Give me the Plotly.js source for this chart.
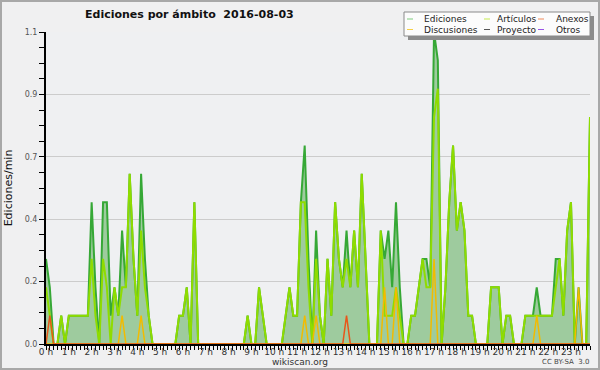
<!DOCTYPE html>
<html>
<head>
<meta charset="utf-8">
<script src="https://cdn.plot.ly/plotly-3.0.1.min.js"></script>
<style>
  html, body { margin: 0; padding: 0; background: #f0f0f1; }
  #chart { width: 600px; height: 370px; }
</style>
</head>
<body>
<div id="chart"></div>
<script>
// ---- DATA (10-minute bins, 2016-08-03) ----
const hourLabels = ['0 h','1 h','2 h','3 h','4 h','5 h','6 h','7 h','8 h','9 h','10 h','11 h',
                    '12 h','13 h','14 h','15 h','16 h','17 h','18 h','19 h','20 h','21 h','22 h','23 h'];

const ediciones = [
  0.3,0.2,0,0,0.1,0,0.1,0.1,0.1,0.1,0.1,0.1,
  0.5,0.2,0,0.5,0.5,0.1,0.2,0.1,0.4,0.2,0.6,0.3,
  0.1,0.6,0.3,0.1,0,0,0,0,0,0,0,0.1,
  0.1,0.2,0,0.5,0,0,0,0,0,0,0,0,
  0,0,0,0,0,0.1,0,0,0.2,0.1,0,0,
  0,0,0,0.1,0.2,0.1,0.1,0.5,0.7,0.3,0,0.4,
  0.1,0,0.3,0.1,0.5,0.3,0.2,0.4,0.2,0.4,0.2,0.6,
  0.3,0,0,0,0.4,0.3,0.4,0.2,0.5,0.2,0,0,
  0.1,0.1,0.2,0.3,0.3,0.2,1.1,1.0,0,0.2,0.5,0.7,
  0.4,0.5,0.4,0.1,0.1,0,0,0,0,0.2,0.2,0.2,
  0,0.1,0.1,0,0,0,0.1,0.1,0.1,0.2,0.1,0.1,
  0.1,0.1,0.3,0.3,0.1,0.4,0.5,0,0.2,0,0,0.8
];
const articulos = [
  0.2,0.1,0,0,0.1,0,0.1,0.1,0.1,0.1,0.1,0.1,
  0.3,0.1,0,0.3,0.2,0,0.2,0.1,0.2,0.2,0.6,0.3,
  0.1,0.4,0.2,0.1,0,0,0,0,0,0,0,0.1,
  0.1,0.2,0,0.5,0,0,0,0,0,0,0,0,
  0,0,0,0,0,0.1,0,0,0.2,0.1,0,0,
  0,0,0,0.1,0.2,0.1,0.1,0.5,0.5,0.2,0,0.3,
  0.1,0,0.3,0.1,0.5,0.3,0.2,0.3,0.2,0.4,0.2,0.6,
  0.3,0,0,0,0.4,0.1,0.1,0.1,0.2,0.1,0,0,
  0.1,0.1,0.2,0.3,0.2,0.2,0.8,0.9,0,0.2,0.5,0.7,
  0.4,0.5,0.4,0.1,0.1,0,0,0,0,0.2,0.2,0.2,
  0,0.1,0.1,0,0,0,0.1,0.1,0.1,0.1,0.1,0.1,
  0.1,0.1,0.2,0.3,0.1,0.4,0.5,0,0,0,0,0.8
];
const discusiones = [
  0,0,0,0,0,0,0,0,0,0,0,0,
  0,0,0,0,0,0,0,0,0.1,0,0,0,
  0,0.1,0,0,0,0,0,0,0,0,0,0,
  0,0,0,0,0,0,0,0,0,0,0,0,
  0,0,0,0,0,0,0,0,0,0,0,0,
  0,0,0,0,0,0,0,0,0.1,0,0,0.1,
  0,0,0,0,0,0,0,0,0,0,0,0,
  0,0,0,0,0,0.2,0,0,0.2,0,0,0,
  0,0,0,0,0,0,0.3,0,0,0,0,0,
  0,0,0,0,0,0,0,0,0,0,0,0,
  0,0,0,0,0,0,0,0,0,0.1,0,0,
  0,0,0,0,0,0,0,0,0.2,0,0,0
];
const anexos = [
  0,0.1,0,0,0,0,0,0,0,0,0,0,
  0,0,0,0,0,0,0,0,0,0,0,0,
  0,0,0,0,0,0,0,0,0,0,0,0,
  0,0,0,0,0,0,0,0,0,0,0,0,
  0,0,0,0,0,0,0,0,0,0,0,0,
  0,0,0,0,0,0,0,0,0,0,0,0,
  0,0,0,0,0,0,0,0.1,0,0,0,0,
  0,0,0,0,0,0,0,0,0,0,0,0,
  0,0,0,0,0,0,0,0,0,0,0,0,
  0,0,0,0,0,0,0,0,0,0,0,0,
  0,0,0,0,0,0,0,0,0,0,0,0,
  0,0,0,0,0,0,0,0,0,0,0,0
];
const proyecto = [
  0,0,0,0,0,0,0,0,0,0,0,0, 0,0,0,0,0,0,0,0,0,0,0,0,
  0,0,0,0,0,0,0,0,0,0,0,0, 0,0,0,0,0,0,0,0,0,0,0,0,
  0,0,0,0,0,0,0,0,0,0,0,0, 0,0,0,0,0,0,0,0,0,0,0,0,
  0,0,0,0,0,0,0,0,0,0,0,0, 0,0,0,0,0,0,0,0,0,0,0,0,
  0,0,0,0,0,0,0,0,0,0,0,0, 0,0,0,0,0,0,0,0,0,0,0,0,
  0,0,0,0,0,0,0,0,0,0,0,0, 0,0,0,0,0,0,0,0,0,0,0,0
];
const otros = [
  0,0,0,0,0,0,0,0,0,0,0,0, 0,0,0,0,0,0,0,0,0,0,0,0,
  0,0,0,0,0,0,0,0,0,0,0,0, 0,0,0,0,0,0,0,0,0,0,0,0,
  0,0,0,0,0,0,0,0,0,0,0,0, 0,0,0,0,0,0,0,0,0,0,0,0,
  0,0,0,0,0,0,0,0,0,0,0,0, 0,0,0,0,0,0,0,0,0,0,0,0,
  0,0,0,0,0,0,0,0,0,0,0,0, 0,0,0,0,0,0,0,0,0,0,0,0,
  0,0,0,0,0,0,0,0,0,0,0,0, 0,0,0,0,0,0,0,0,0,0,0,0
];
const yTickVals = [0, 0.22, 0.44, 0.66, 0.88, 1.1];
const yTickText = ['0.0','0.2','0.4','0.7','0.9','1.1'];

// ---- build ----
const bins = ediciones.map((_, i) => i);           // 10-min bin index
const hourTicks = hourLabels.map((_, h) => h * 6);

const FONT = 'DejaVu Sans, Verdana, sans-serif';
const COL = {
  ed: '#36a836', art: '#8fdc00', disc: '#f2bb00', anex: '#e8561a', proy: '#555555', otros: '#9a50e0',
  fill: '#9ecb9e'
};

const traces = [
  {x: bins, y: proyecto, name: 'Proyecto', mode: 'lines', line: {color: COL.proy, width: 1.5}},
  {x: bins, y: otros, name: 'Otros', mode: 'lines', line: {color: COL.otros, width: 1.5}},
  {x: bins, y: ediciones, name: 'Ediciones', mode: 'lines', fill: 'tozeroy', fillcolor: COL.fill,
   line: {color: COL.ed, width: 2}},
  {x: bins, y: articulos, name: 'Artículos', mode: 'lines', line: {color: COL.art, width: 2}},
  {x: bins, y: discusiones, name: 'Discusiones', mode: 'lines', line: {color: COL.disc, width: 1.5}},
  {x: bins, y: anexos, name: 'Anexos', mode: 'lines', line: {color: COL.anex, width: 1.5}}
];

// layout geometry (pixels)
const W = 600, H = 370, M = {l: 46, r: 10, t: 32, b: 26};
const PW = W - M.l - M.r, PH = H - M.t - M.b;
const px = v => (v - M.l) / PW;
const py = v => (H - M.b - v) / PH;

// manual legend (3 columns x 2 rows)
const legendNames  = ['Ediciones','Artículos','Anexos','Discusiones','Proyecto','Otros'];
const legendColors = ['#7fcc7f','#c6ea4e','#f08a5a','#f6cf48','#555555','#9a55e6'];
const legLineX = [407, 484, 538], legTextX = [423, 496, 555], legRowY = [19, 29.5];

const shapes = [
  // outer frame
  {type:'rect', xref:'paper', yref:'paper', x0: px(1), x1: px(599), y0: py(369), y1: py(1),
   line:{color:'#a8a8a8', width:2}, fillcolor:'rgba(0,0,0,0)', layer:'above'},
  // legend shadow + box
  {type:'rect', xref:'paper', yref:'paper', x0: px(408), x1: px(594), y0: py(40), y1: py(16),
   line:{width:0}, fillcolor:'#8c8c8c', layer:'above'},
  {type:'rect', xref:'paper', yref:'paper', x0: px(404), x1: px(590), y0: py(36), y1: py(12),
   line:{color:'#8a8a8a', width:1}, fillcolor:'#fcfcfc', layer:'above'}
];
const annotations = [
  {text:'wikiscan.org', xref:'paper', yref:'paper', x: px(300), y: py(362), showarrow:false,
   font:{family: FONT, size: 9, color:'#333'}, xanchor:'center', yanchor:'middle', borderpad: 0},
  {text:'CC BY-SA  3.0', xref:'paper', yref:'paper', x: px(590), y: py(362), showarrow:false,
   font:{family: FONT, size: 7, color:'#444'}, xanchor:'right', yanchor:'middle', borderpad: 0}
];
legendNames.forEach((name, i) => {
  const c = i % 3, r = Math.floor(i / 3);
  shapes.push({type:'line', xref:'paper', yref:'paper', x0: px(legLineX[c]), x1: px(legLineX[c] + 6),
    y0: py(legRowY[r]), y1: py(legRowY[r]), line:{color: legendColors[i], width: 1}, layer:'above'});
  annotations.push({text: name, xref:'paper', yref:'paper', x: px(legTextX[c]), y: py(legRowY[r]),
    showarrow:false, xanchor:'left', yanchor:'middle', borderpad: 0, font:{family: FONT, size: 9, color:'#222'}});
});

const layout = {
  width: W, height: H,
  margin: M,
  paper_bgcolor: '#f0f0f1',
  plot_bgcolor: '#eff0f2',
  showlegend: false,
  title: {text: 'Ediciones por ámbito  2016-08-03', x: 85 / W, xanchor: 'left', xref: 'container',
          y: 1 - 14 / H, yanchor: 'middle', yref: 'container',
          font: {family: FONT, size: 11, weight: 'bold', color: '#111'}},
  xaxis: {
    range: [0, bins.length - 1], tickmode: 'array', tickvals: hourTicks, ticktext: hourLabels,
    ticks: 'outside', ticklen: 4, tickwidth: 1, tickcolor: '#000',
    minor: {tickmode: 'linear', tick0: 0, dtick: 1, ticks: 'outside', ticklen: 4, tickwidth: 1, tickcolor: '#000', showgrid: false},
    showline: true, linecolor: '#000', linewidth: 2, showgrid: false, zeroline: false,
    tickfont: {family: FONT, size: 9, color: '#333'}, ticklabelstandoff: -6, fixedrange: true
  },
  yaxis: {
    range: [0, 1.1], tickmode: 'array', tickvals: yTickVals, ticktext: yTickText,
    ticks: 'outside', ticklen: 5, tickwidth: 1, tickcolor: '#000',
    minor: {tickmode: 'linear', tick0: 0, dtick: 0.055, ticks: 'outside', ticklen: 5, tickwidth: 1, tickcolor: '#000', showgrid: false},
    showline: true, linecolor: '#000', linewidth: 2, showgrid: true, gridcolor: '#cccccc', gridwidth: 1,
    zeroline: false, tickfont: {family: FONT, size: 8, color: '#555'},
    title: {text: 'Ediciones/min', font: {family: FONT, size: 11, color: '#111'}, standoff: 10},
    fixedrange: true
  },
  shapes: shapes,
  annotations: annotations
};

Plotly.newPlot('chart', traces, layout, {displayModeBar: false, staticPlot: true});
</script>
</body>
</html>
